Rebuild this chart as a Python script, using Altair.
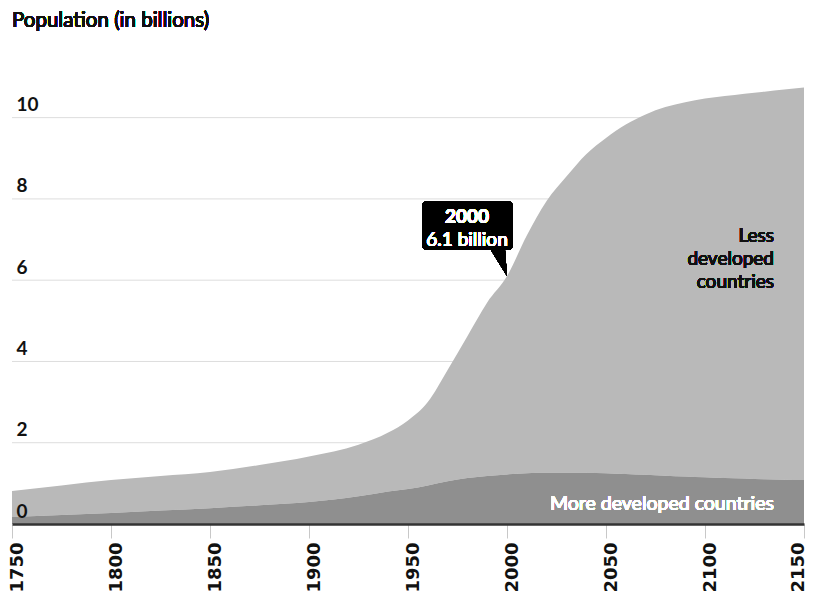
import altair as alt
import pandas as pd

# ---- data (billions) ----
years = [1750, 1775, 1800, 1825, 1850, 1875, 1900, 1925, 1940, 1950, 1960, 1970,
         1980, 1990, 2000, 2010, 2020, 2030, 2040, 2050, 2060, 2070, 2080, 2090,
         2100, 2110, 2120, 2130, 2140, 2150]
world_total = [0.81, 0.95, 1.08, 1.18, 1.28, 1.45, 1.66, 1.95, 2.25, 2.55, 3.0, 3.79,
               4.62, 5.45, 6.1, 7.1, 7.95, 8.55, 9.1, 9.5, 9.83, 10.08, 10.26, 10.38,
               10.47, 10.53, 10.59, 10.64, 10.69, 10.74]
more_developed = [0.17, 0.22, 0.27, 0.33, 0.39, 0.46, 0.54, 0.68, 0.80, 0.86, 0.95, 1.05,
                  1.13, 1.18, 1.22, 1.25, 1.26, 1.26, 1.26, 1.25, 1.23, 1.21, 1.19, 1.17,
                  1.15, 1.13, 1.12, 1.10, 1.09, 1.08]
x_ticks = [1750, 1800, 1850, 1900, 1950, 2000, 2050, 2100, 2150]
y_ticks = [0, 2, 4, 6, 8, 10]
grid_values = [2, 4, 6, 8, 10]
callout_year = 2000
callout_value = 6.1
callout_title = "2000"
callout_text = "6.1 billion"
less_label = ["Less", "developed", "countries"]
more_label = "More developed countries"
chart_title = "Population (in billions)"

NARROW = "Lato, Roboto, sans-serif"
WIDE = "DejaVu Sans, Verdana, sans-serif"

df = pd.DataFrame({"year": years, "total": world_total, "more": more_developed})
grid_df = pd.DataFrame({"g": grid_values})

x_scale = alt.Scale(domain=[1750, 2150], nice=False, zero=False)
y_scale = alt.Scale(domain=[0, 11], nice=False)

x_axis = alt.Axis(values=x_ticks, format="d", title=None, labelAngle=-90,
                  labelFont=WIDE, labelFontWeight="bold", labelFontSize=18,
                  labelColor="#111111", labelPadding=4,
                  labelOffset={"condition": {"test": "datum.value >= 2150", "value": -6},
                               "value": 5},
                  labelFlush=False, labelOverlap=False,
                  domainColor="#333333", domainWidth=2.5, tickColor="#c8c8c8",
                  tickSize=14, tickWidth=1, grid=False, zindex=1)
y_axis = alt.Axis(values=y_ticks, title=None, domain=False, ticks=False,
                  grid=False, labelAlign="left", labelBaseline="alphabetic",
                  labelPadding=-4, labelOffset=-7, labelFont=NARROW,
                  labelFlush=False, labelFontWeight="bold", labelFontSize=19,
                  labelColor="#111111", zindex=1)

grid = alt.Chart(grid_df).mark_rule(color="#dddddd", strokeWidth=1).encode(
    y=alt.Y("g:Q", scale=y_scale, axis=y_axis)
)

light = alt.Chart(df).mark_area(color="#b9b9b9", interpolate="monotone").encode(
    x=alt.X("year:Q", scale=x_scale, axis=x_axis),
    y=alt.Y("total:Q", scale=y_scale, axis=y_axis),
    y2=alt.Y2("more:Q"),
)

dark = alt.Chart(df).mark_area(color="#8f8f8f", interpolate="monotone").encode(
    x=alt.X("year:Q", scale=x_scale, axis=x_axis),
    y=alt.Y("more:Q", scale=y_scale, axis=y_axis),
)

callout_path = ("M -79,-75 L 0,-75 Q 6,-75 6,-69 L 6,-32 Q 6,-26 0,-26 L -2,-26 "
                "L 0,0 L -16,-26 L -79,-26 Q -85,-26 -85,-32 L -85,-69 "
                "Q -85,-75 -79,-75 Z")

anchor_x = alt.XDatum(callout_year, scale=x_scale, axis=x_axis)
anchor_y = alt.YDatum(callout_value, scale=y_scale, axis=y_axis)

bubble = alt.Chart(df).mark_point(
    shape=callout_path, size=4, filled=True, fill="black", opacity=1, strokeWidth=0
).encode(x=anchor_x, y=anchor_y)

bubble_t1 = alt.Chart(df).mark_text(
    text=callout_title, font=NARROW, fontSize=19, fontWeight="bold", color="white",
    align="center", baseline="alphabetic", dx=-40, dy=-53
).encode(x=anchor_x, y=anchor_y)

bubble_t2 = alt.Chart(df).mark_text(
    text=callout_text, font=NARROW, fontSize=19, color="white",
    align="center", baseline="alphabetic", dx=-40, dy=-30
).encode(x=anchor_x, y=anchor_y)

more_txt = alt.Chart(df).mark_text(
    text=more_label, font=NARROW, fontSize=19.5, color="white",
    align="right", baseline="alphabetic", dx=-30, dy=-14
).encode(
    x=alt.XDatum(years[-1], scale=x_scale, axis=x_axis),
    y=alt.YDatum(0, scale=y_scale, axis=y_axis),
)

less_txt = alt.Chart(df).mark_text(
    text=less_label, font=NARROW, fontSize=19, color="#111111", lineHeight=23,
    align="right", baseline="alphabetic", dx=-30
).encode(
    x=alt.XDatum(years[-1], scale=x_scale, axis=x_axis),
    y=alt.value(165),
)

title_txt = alt.Chart(df).mark_text(
    text=chart_title, font=NARROW, fontSize=20.5, color="#111111",
    align="left", baseline="alphabetic"
).encode(x=alt.value(0), y=alt.value(-50))

chart = alt.layer(grid, light, dark, bubble, bubble_t1, bubble_t2, more_txt,
                  less_txt, title_txt).properties(
    width=792, height=447,
    autosize=alt.AutoSizeParams(type="none"),
    padding={"left": 4, "top": 69, "right": 3, "bottom": 72},
).configure_view(stroke=None)

chart.save("out.html", embed_options={"renderer": "svg", "actions": False})
